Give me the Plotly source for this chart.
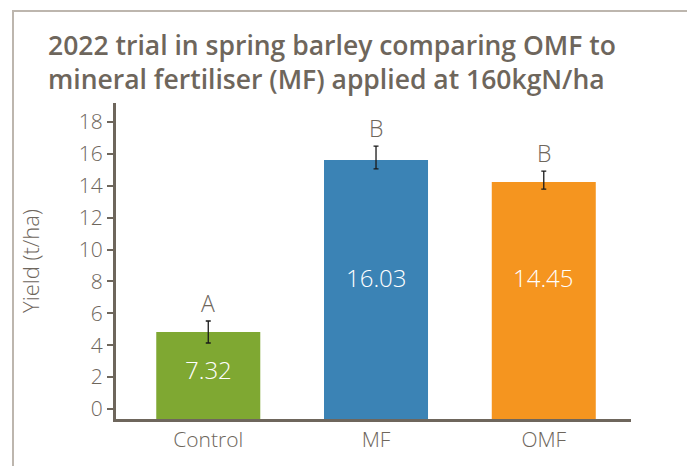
import plotly.graph_objects as go

categories = ["Control", "MF", "OMF"]
bar_heights = [4.83, 15.62, 14.24]
err_plus = [0.69, 0.88, 0.69]
err_minus = [0.69, 0.56, 0.44]
value_labels = ["7.32", "16.03", "14.45"]
label_y = [2.45, 8.28, 8.22]
letters = ["A", "B", "B"]
colors = ["#7fa832", "#3b83b5", "#f5951f"]
y_ticks = [0, 2, 4, 6, 8, 10, 12, 14, 16, 18]
title_text = ("2022 trial in spring barley comparing OMF to<br>"
              "mineral fertiliser (MF) applied at 160kgN/ha")

TXT = "#6e665c"
Y_MIN, Y_MAX = -0.63, 19.2
FONT = "Open Sans"

# page body has an 8px margin, so the figure is offset by 8px
L, T, PW, PH = 108, 95, 515, 316


def px(X):
    return (X - L) / PW


def py(Y):
    return (T + PH - Y) / PH


fig = go.Figure()
fig.add_trace(go.Bar(
    x=categories,
    y=[h - Y_MIN for h in bar_heights],
    base=Y_MIN,
    marker=dict(color=colors, line=dict(width=0)),
    error_y=dict(type="data", symmetric=False, array=err_plus, arrayminus=err_minus,
                 color="#1a1a1a", thickness=1.3, width=2.5),
    hoverinfo="skip",
))

annotations = []
for c, h, p, l in zip(categories, bar_heights, err_plus, letters):
    annotations.append(dict(x=c, y=h + p, xref="x", yref="y", text=l, showarrow=False,
                            yanchor="bottom", yshift=0,
                            font=dict(family=FONT, size=23, color=TXT, weight=300)))
for c, ly, t in zip(categories, label_y, value_labels):
    annotations.append(dict(x=c, y=ly, xref="x", yref="y", text=t, showarrow=False,
                            yanchor="middle",
                            font=dict(family=FONT, size=24, color="white", weight=300)))
annotations.append(dict(x=px(38), y=py(54), xref="paper", yref="paper", text=title_text,
                        showarrow=False, xanchor="left", yanchor="middle", align="left",
                        font=dict(family=FONT, size=26.5, color=TXT, weight=600)))

fig.update_layout(
    width=695, height=466,
    margin=dict(l=L, r=695 - L - PW, t=T, b=466 - T - PH),
    paper_bgcolor="white", plot_bgcolor="white",
    showlegend=False,
    bargap=0.38,
    xaxis=dict(
        range=[-0.55, 2.52], showgrid=False, zeroline=False,
        showline=True, linecolor=TXT, linewidth=3,
        ticks="", tickfont=dict(family=FONT, size=21, color=TXT, weight=300),
    ),
    yaxis=dict(
        range=[Y_MIN, Y_MAX], tickvals=y_ticks, showgrid=False, zeroline=False,
        showline=True, linecolor=TXT, linewidth=3,
        ticks="outside", ticklen=6, tickwidth=1.5, tickcolor=TXT,
        tickfont=dict(family=FONT, size=21, color=TXT, weight=300),
        title=dict(text="Yield (t/ha)", standoff=34,
                   font=dict(family=FONT, size=22, color=TXT, weight=300)),
    ),
    annotations=annotations,
    shapes=[dict(type="rect", xref="paper", yref="paper",
                 x0=px(5), x1=px(684), y0=-0.4, y1=py(3),
                 line=dict(color="#bdb6ae", width=2), layer="below")],
)

fig.write_html("out.html")
